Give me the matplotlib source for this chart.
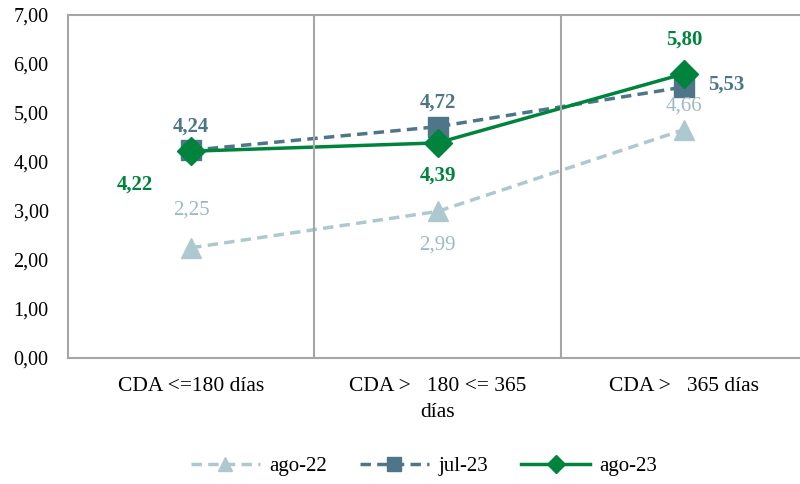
import matplotlib.pyplot as plt

categorias = ['CDA <=180 días', 'CDA >   180 <= 365\ndías', 'CDA >   365 días']
ago22 = [2.25, 2.99, 4.66]
jul23 = [4.24, 4.72, 5.53]
ago23 = [4.22, 4.39, 5.80]

plt.rcParams['font.family'] = ['Liberation Serif', 'DejaVu Serif']

c1 = '#aec8cf'
c2 = '#4e7688'
c3 = '#00843d'

fig = plt.figure(figsize=(8, 4.84), dpi=100)
ax = fig.add_axes([68/800, 1 - 358/484, 739/800, 343/484])

x = range(len(categorias))
ax.plot(x, ago22, color=c1, lw=2.5, ls=(0, (3, 1.8)), marker='^', ms=15, label='ago-22')
ax.plot(x, jul23, color=c2, lw=2.5, ls=(0, (3, 1.8)), marker='s', ms=15, label='jul-23')
ax.plot(x, ago23, color=c3, lw=2.5, marker='D', ms=14, label='ago-23')

def fmt(v):
    return f'{v:.2f}'.replace('.', ',')

# etiquetas de datos
off1 = [(0, 38), (0, -34), (0, 24)]
for i, v in enumerate(ago22):
    ax.annotate(fmt(v), (i, v), xytext=off1[i], textcoords='offset pixels',
                ha='center', va='center', color='#9dbac4', fontsize=15)
off2 = [(0, 24), (0, 24), (42, 2)]
for i, v in enumerate(jul23):
    ax.annotate(fmt(v), (i, v), xytext=off2[i], textcoords='offset pixels',
                ha='center', va='center', color=c2, fontsize=15, fontweight='bold')
off3 = [(-56, -33), (0, -33), (0, 34)]
for i, v in enumerate(ago23):
    ax.annotate(fmt(v), (i, v), xytext=off3[i], textcoords='offset pixels',
                ha='center', va='center', color=c3, fontsize=15, fontweight='bold')

ax.set_xlim(-0.5, 2.5)
ax.set_ylim(0, 7)
ax.set_yticks(range(8))
ax.set_yticklabels([fmt(v) for v in range(8)], fontsize=14.5)
ax.set_xticks(list(x))
ax.set_xticklabels(categorias, fontsize=15.5, linespacing=1.45)
ax.tick_params(length=0)
ax.tick_params(axis='y', pad=14)
ax.tick_params(axis='x', pad=14)
for xv in [0.5, 1.5]:
    ax.axvline(xv, color='#a6a6a6', lw=1.5)
for s in ax.spines.values():
    s.set_color('#a6a6a6')
    s.set_linewidth(1.5)

fig.legend(loc='center', bbox_to_anchor=(0.53, 1 - 466/484), ncol=3, frameon=False,
           fontsize=15, handlelength=3.3, columnspacing=1.6, handletextpad=0.45,
           markerscale=0.65)

fig.savefig('out.png')
